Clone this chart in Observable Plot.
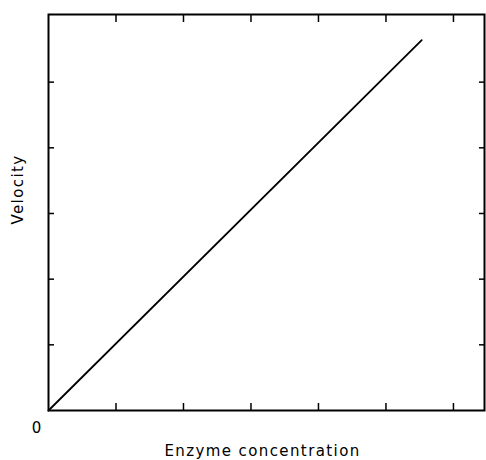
<!DOCTYPE html>
<html><head><meta charset="utf-8">
<script src="https://cdn.jsdelivr.net/npm/d3@7"></script>
<script src="https://cdn.jsdelivr.net/npm/@observablehq/plot@0.6"></script>
<style>
body{margin:0;background:#fff;}
svg text{font-family:"DejaVu Sans",sans-serif;}
svg text.lbl, svg g.lbl text{letter-spacing:1.4px;}
</style>
</head><body><div id="chart"></div>
<script>
const concentration = [0, 5.53];
const velocity = [0, 5.64];
const xTicks = [1, 2, 3, 4, 5, 6];
const yTicks = [1, 2, 3, 4, 5];
const xLabel = "Enzyme concentration";
const yLabel = "Velocity";
const originLabel = "0";

const pts = concentration.map((c, i) => ({c, v: velocity[i]}));

const chart = Plot.plot({
  width: 486,
  height: 460,
  marginLeft: 48,
  marginRight: 2,
  marginTop: 14,
  marginBottom: 50,
  style: {fontSize: "14px", color: "#000", background: "#fff"},
  x: {domain: [0, 6.46]},
  y: {domain: [0, 6.03]},
  marks: [
    Plot.frame({stroke: "#000", strokeWidth: 2}),
    Plot.axisX(xTicks, {anchor: "bottom", tickSize: -7, tickFormat: () => "", label: null, strokeWidth: 1.5}),
    Plot.axisX(xTicks, {anchor: "top", tickSize: -7, tickFormat: () => "", label: null, strokeWidth: 1.5}),
    Plot.axisY(yTicks, {anchor: "left", tickSize: -6, tickFormat: () => "", label: null, strokeWidth: 1.5}),
    Plot.axisY(yTicks, {anchor: "right", tickSize: -6, tickFormat: () => "", label: null, strokeWidth: 1.5}),
    Plot.line(pts, {x: "c", y: "v", stroke: "#000", strokeWidth: 1.8}),
    Plot.text([originLabel], {x: 0, y: 0, text: d => d, dx: -12, dy: 18, fontSize: 15}),
    Plot.text([xLabel], {frameAnchor: "bottom", textAnchor: "middle", text: d => d, dx: -4, dy: 45, fontSize: 15, className: "lbl"}),
    Plot.text([yLabel], {frameAnchor: "left", textAnchor: "middle", text: d => d, rotate: -90, dx: -30, dy: -23, fontSize: 15, className: "lbl"})
  ]
});
document.getElementById("chart").appendChild(chart);
</script>
</body></html>
